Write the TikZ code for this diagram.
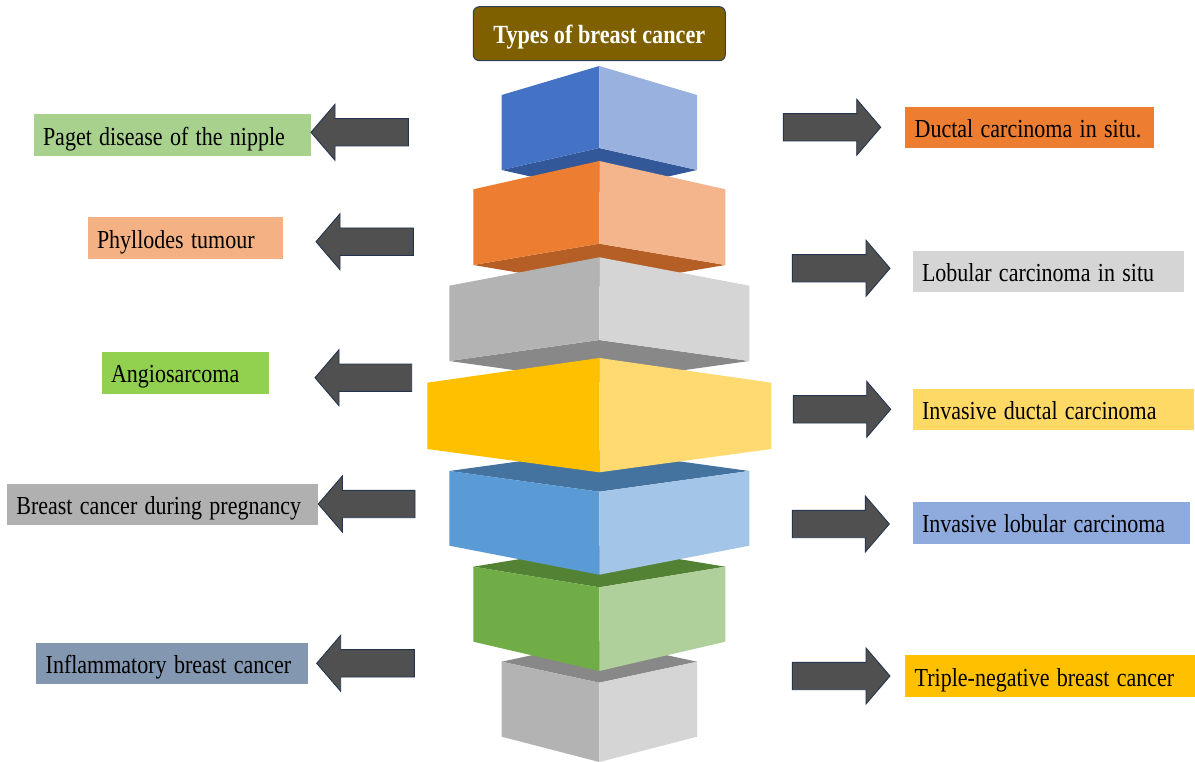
\documentclass[tikz,border=0pt]{standalone}
\usepackage{fontspec}
\setmainfont{Liberation Serif}
\usepackage{graphicx}
\newcommand\mys[1]{\scalebox{1}[1.18]{#1}}
\definecolor{titlebrown}{HTML}{7F6000}
\definecolor{titleedge}{HTML}{2F4056}
\definecolor{arrowgray}{HTML}{505050}
\definecolor{arrowedge}{HTML}{243550}
\definecolor{blueL}{HTML}{4472C4}\definecolor{blueR}{HTML}{99B1DE}\definecolor{blueD}{HTML}{32589A}
\definecolor{oraL}{HTML}{ED7D31}\definecolor{oraR}{HTML}{F4B58C}\definecolor{oraD}{HTML}{B55F27}
\definecolor{grayL}{HTML}{B3B3B3}\definecolor{grayR}{HTML}{D5D5D5}\definecolor{grayD}{HTML}{888888}
\definecolor{yelL}{HTML}{FFC000}\definecolor{yelR}{HTML}{FFDA70}
\definecolor{lbL}{HTML}{5B9BD5}\definecolor{lbR}{HTML}{A3C5E8}\definecolor{lbD}{HTML}{44739F}
\definecolor{grL}{HTML}{70AD47}\definecolor{grR}{HTML}{AFD09A}\definecolor{grD}{HTML}{548235}
\definecolor{cPaget}{HTML}{A9D18E}
\definecolor{cPhyl}{HTML}{F4B183}
\definecolor{cAngio}{HTML}{92D050}
\definecolor{cPreg}{HTML}{B0B0B0}
\definecolor{cInfl}{HTML}{8497B0}
\definecolor{cDuct}{HTML}{ED7D31}
\definecolor{cLob}{HTML}{D5D5D5}
\definecolor{cIDC}{HTML}{FFD966}
\definecolor{cILC}{HTML}{8FAADC}
\definecolor{cTNBC}{HTML}{FFC000}
\newcommand\larr[3]{\draw[barrow] (#1,#3) -- (#1+24,#3-28) -- (#1+24,#3-13.7) -- (#2,#3-13.7) -- (#2,#3+13.7) -- (#1+24,#3+13.7) -- (#1+24,#3+28) -- cycle;}
\newcommand\rarr[3]{\draw[barrow] (#2,#3) -- (#2-24,#3-28) -- (#2-24,#3-13.7) -- (#1,#3-13.7) -- (#1,#3+13.7) -- (#2-24,#3+13.7) -- (#2-24,#3+28) -- cycle;}
\begin{document}
\begin{tikzpicture}[x=1pt,y=-1pt,
  barrow/.style={fill=arrowgray,draw=arrowedge,line width=0.9pt,line join=miter},
  lbl/.style={anchor=north west,inner xsep=9.5pt,inner ysep=0pt,align=left,
    text height=22pt,text depth=2pt,
    font=\fontsize{22}{26}\selectfont,text=black},
  titlebox/.style={fill=titlebrown,draw=titleedge,line width=1pt,rounded corners=6pt,
    minimum width=252pt,minimum height=54pt,inner sep=0pt,
    text height=22pt,text depth=2pt,
    font=\fontsize{22.2}{26}\selectfont\bfseries,text=white}]
\useasboundingbox (0,0) rectangle (1195,762);
\fill[white] (0,0) rectangle (1195,762);

% title
\node[titlebox] (title) at (599.3,33.7) {\mys{Types of breast cancer}};

% block 1 (blue)
\fill[blueD] (501.7,170) -- (599.3,148) -- (697,170) -- (599.3,192) -- cycle;
\fill[blueL] (501.7,95) -- (599.3,66) -- (599.3,148) -- (501.7,170) -- cycle;
\fill[blueR] (599.3,66) -- (697,95) -- (697,170) -- (599.3,148) -- cycle;
% block 2 (orange)
\fill[oraD] (473.3,265) -- (599.3,243.7) -- (725.3,265) -- (599.3,286.3) -- cycle;
\fill[oraL] (473.3,189.3) -- (599.3,161) -- (599.3,243.7) -- (473.3,265) -- cycle;
\fill[oraR] (599.3,161) -- (725.3,189.3) -- (725.3,265) -- (599.3,243.7) -- cycle;
% block 3 (gray)
\fill[grayD] (449.3,361) -- (599.3,340) -- (749.3,361) -- (599.3,382) -- cycle;
\fill[grayL] (449.3,285.7) -- (599.3,257.3) -- (599.3,340) -- (449.3,361) -- cycle;
\fill[grayR] (599.3,257.3) -- (749.3,285.7) -- (749.3,361) -- (599.3,340) -- cycle;
% block 7 (bottom gray)
\fill[grayD] (501.7,661.7) -- (599.3,640.7) -- (697,661.7) -- (599.3,682.7) -- cycle;
\fill[grayL] (501.7,661.7) -- (599.3,682.7) -- (599.3,762) -- (501.7,736.7) -- cycle;
\fill[grayR] (599.3,682.7) -- (697,661.7) -- (697,736.7) -- (599.3,762) -- cycle;
% block 6 (green)
\fill[grD] (473.3,566.7) -- (599.3,546) -- (725.3,566.7) -- (599.3,587.3) -- cycle;
\fill[grL] (473.3,566.7) -- (599.3,587.3) -- (599.3,671) -- (473.3,641.7) -- cycle;
\fill[grR] (599.3,587.3) -- (725.3,566.7) -- (725.3,641.7) -- (599.3,671) -- cycle;
% block 5 (light blue)
\fill[lbD] (449.3,471) -- (599.3,450.3) -- (749.3,471) -- (599.3,491.7) -- cycle;
\fill[lbL] (449.3,471) -- (599.3,491.7) -- (599.3,574.7) -- (449.3,545.7) -- cycle;
\fill[lbR] (599.3,491.7) -- (749.3,471) -- (749.3,545.7) -- (599.3,574.7) -- cycle;
% block 4 (yellow)
\fill[yelL] (427.3,382.7) -- (599.3,358) -- (599.3,472.3) -- (427.3,449) -- cycle;
\fill[yelR] (599.3,358) -- (771.3,382.7) -- (771.3,449) -- (599.3,472.3) -- cycle;

% left labels
\node[lbl,fill=cPaget,text width=258.7pt,minimum height=41.4pt] (paget) at (33.3,114.3) {\mys{Paget disease of the nipple}};
\node[lbl,fill=cPhyl,text width=176.4pt,minimum height=41.7pt] (phyl) at (87.3,217) {\mys{Phyllodes tumour}};
\node[lbl,fill=cAngio,text width=148.4pt,minimum height=41.6pt] (angio) at (101.3,351.7) {\mys{Angiosarcoma}};
\node[lbl,fill=cPreg,text width=292pt,minimum height=41.7pt] (preg) at (6.7,483.3) {\mys{Breast cancer during pregnancy}};
\node[lbl,fill=cInfl,text width=252.3pt,minimum height=41pt] (infl) at (36,642.3) {\mys{Inflammatory breast cancer}};

% right labels
\node[lbl,fill=cDuct,text width=229.3pt,minimum height=41.6pt] (dcis) at (905,106.7) {\mys{Ductal carcinoma in situ.}};
\node[lbl,fill=cLob,text width=252pt,minimum height=41.3pt] (lcis) at (912.3,251) {\mys{Lobular carcinoma in situ}};
\node[lbl,fill=cIDC,text width=262.7pt,minimum height=41pt] (idc) at (912.3,388.3) {\mys{Invasive ductal carcinoma}};
\node[lbl,fill=cILC,text width=258.7pt,minimum height=41.6pt] (ilc) at (912.3,501.7) {\mys{Invasive lobular carcinoma}};
\node[lbl,fill=cTNBC,text width=270.3pt,minimum height=41.7pt] (tnbc) at (905,655) {\mys{Triple-negative breast cancer}};

% left arrows
\larr{311}{408.3}{132.3}
\larr{316}{413.3}{241.7}
\larr{315}{411.7}{377.7}
\larr{318.3}{415}{504}
\larr{316.7}{414.3}{663.3}
% right arrows
\rarr{783.3}{880.7}{127.3}
\rarr{792.3}{890}{268.3}
\rarr{793.3}{890.7}{409.3}
\rarr{792.3}{889.3}{524}
\rarr{792.3}{890}{676}
\end{tikzpicture}
\end{document}
